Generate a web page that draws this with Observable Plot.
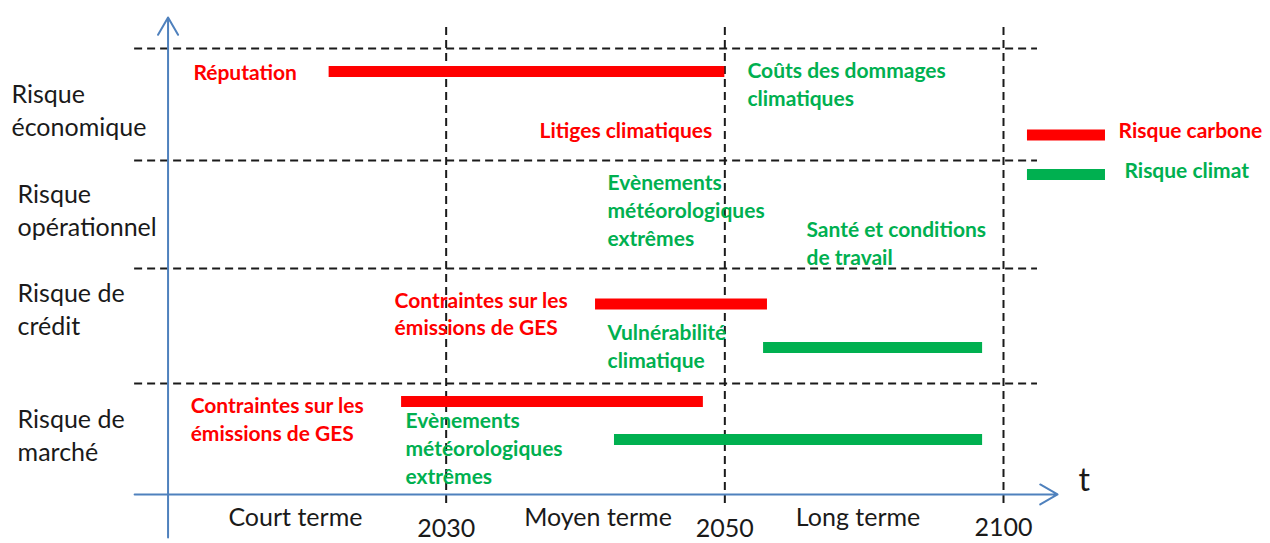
<!DOCTYPE html>
<html><head><meta charset="utf-8">
<script src="https://cdn.jsdelivr.net/npm/d3@7"></script>
<script src="https://cdn.jsdelivr.net/npm/@observablehq/plot@0.6"></script>
<style>body{margin:0;background:#fff;} svg{display:block;overflow:visible;}</style>
</head><body><div id="chart"></div>
<script>
// x in horizon units: 0 = today, 1 = 2030, 2 = 2050, 3 = 2100
const yearTicks = [1, 2, 3];
const yearLabels = ["2030", "2050", "2100"];
const yearBaseline = [4.42, 4.42, 4.41];
const periods = ["Court terme", "Moyen terme", "Long terme"];
const periodCenters = [0.459, 1.545, 2.478];
const periodBaseline = 4.317;

// y in row units from the top
const categories = ["Risque\néconomique", "Risque\nopérationnel", "Risque de\ncrédit", "Risque de\nmarché"];
const categoryX = [-0.56, -0.538, -0.538, -0.538];
const categoryBaseline = [0.796, 1.701, 2.597, 3.729];
const rowBoundaries = [0, 1.014, 1.991, 3.032];

// risk bars
const barKind = ["carbone", "carbone", "climat", "carbone", "climat"];
const barStart = [0.58, 1.536, 2.139, 0.84, 1.604];
const barEnd = [2.0, 2.153, 2.925, 1.923, 2.925];
const barLevel = [0.208, 2.312, 2.706, 3.195, 3.538];

// risk labels
const labelText = [
  "Réputation",
  "Coûts des dommages\nclimatiques",
  "Litiges climatiques",
  "Evènements\nmétéorologiques\nextrêmes",
  "Santé et conditions\nde travail",
  "Contraintes sur les\némissions de GES",
  "Vulnérabilité\nclimatique",
  "Contraintes sur les\némissions de GES",
  "Evènements\nmétéorologiques\nextrêmes"
];
const labelKind = ["carbone", "climat", "carbone", "climat", "climat", "carbone", "climat", "carbone", "climat"];
const labelX = [0.093, 2.081, 1.335, 1.579, 2.293, 0.815, 1.579, 0.083, 0.854];
const labelBaseline = [0.281, 0.516, 0.814, 1.783, 1.955, 2.597, 2.887, 3.548, 3.937];

// legend
const legendKind = ["carbone", "climat"];
const legendText = ["Risque carbone", "Risque climat"];
const legendStart = [3.086, 3.086];
const legendEnd = [3.366, 3.366];
const legendLevel = [0.783, 1.14];
const legendTextX = [3.413, 3.434];
const legendBaseline = [0.814, 1.176];

const RED = "#ff0000", GREEN = "#00b050", BLUE = "#4f81bd", INK = "#1a1a1a";
const FONT = "Lato, 'Open Sans', sans-serif";

const bars = barKind.map((k, i) => ({kind: k, x1: barStart[i], x2: barEnd[i], y: barLevel[i]}));
const labels = labelText.map((t, i) => ({text: t, kind: labelKind[i], x: labelX[i], y: labelBaseline[i]}));
const legend = legendKind.map((k, i) => ({kind: k, text: legendText[i], x1: legendStart[i], x2: legendEnd[i], y: legendLevel[i], tx: legendTextX[i], ty: legendBaseline[i]}));
const cats = categories.map((c, i) => ({text: c, x: categoryX[i], y: categoryBaseline[i]}));
const years = yearTicks.map((t, i) => ({x: t, text: yearLabels[i], y: yearBaseline[i]}));
const pers = periods.map((p, i) => ({text: p, x: periodCenters[i], y: periodBaseline}));

const chart = Plot.plot({
  width: 1270, height: 543,
  marginTop: 0, marginRight: 0, marginBottom: 0, marginLeft: 0,
  style: {fontFamily: FONT, background: "#fff"},
  x: {domain: [0, 3], range: [167, 1003], axis: null},
  y: {domain: [0, 4], range: [48, 490], axis: null},
  color: {domain: ["carbone", "climat"], range: [RED, GREEN]},
  marks: [
    // grid
    Plot.ruleY(rowBoundaries, {x1: -0.118, x2: 3.122, stroke: INK, strokeWidth: 2, strokeDasharray: "8,5"}),
    Plot.ruleX(yearTicks, {y1: -0.19, y2: 4.154, stroke: INK, strokeWidth: 2, strokeDasharray: "8,5"}),
    // axes arrows
    Plot.arrow([{x1: -0.118, x2: 3.194, y: 4.036}], {x1: "x1", x2: "x2", y1: "y", y2: "y", stroke: BLUE, strokeWidth: 2, headLength: 15, headAngle: 60, insetStart: 0, insetEnd: 0}),
    Plot.arrow([{x: 0.002, y1: 4.425, y2: -0.281}], {x1: "x", x2: "x", y1: "y1", y2: "y2", stroke: BLUE, strokeWidth: 2, headLength: 15, headAngle: 60, insetStart: 0, insetEnd: 0}),
    // bars
    Plot.ruleY(bars, {x1: "x1", x2: "x2", y: "y", stroke: "kind", strokeWidth: 11}),
    Plot.ruleY(legend, {x1: "x1", x2: "x2", y: "y", stroke: "kind", strokeWidth: 11}),
    // labels
    Plot.text(labels, {x: "x", y: "y", text: "text", fill: "kind", textAnchor: "start", lineAnchor: "bottom", fontSize: 21, fontWeight: "bold", lineHeight: 1.33}),
    Plot.text(legend, {x: "tx", y: "ty", text: "text", fill: "kind", textAnchor: "start", lineAnchor: "bottom", fontSize: 21, fontWeight: "bold"}),
    Plot.text(cats, {x: "x", y: "y", text: "text", fill: INK, textAnchor: "start", lineAnchor: "bottom", fontSize: 25, lineHeight: 1.32}),
    Plot.text(pers, {x: "x", y: "y", text: "text", fill: INK, textAnchor: "middle", lineAnchor: "bottom", fontSize: 25}),
    Plot.text(years, {x: "x", y: "y", text: "text", fill: INK, textAnchor: "middle", lineAnchor: "bottom", fontSize: 25}),
    Plot.text([{x: 3.269, y: 4.0, t: "t"}], {x: "x", y: "y", text: "t", fill: INK, textAnchor: "start", lineAnchor: "bottom", fontSize: 32})
  ]
});
document.getElementById("chart").append(chart);
</script>
</body></html>
